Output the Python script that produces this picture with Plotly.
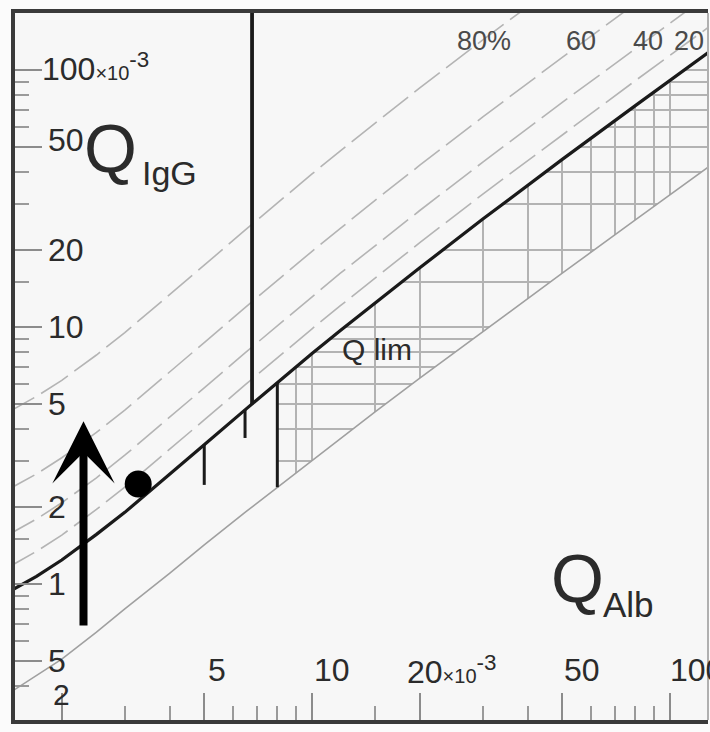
import numpy as np
import plotly.graph_objects as go

# ---------------- data (units x10^-3) ----------------
qalb = [1.4, 1.7, 2, 2.5, 3, 4, 5, 6.5, 8, 10, 12, 15, 20, 30, 50, 80, 130]
q_lim = [0.92, 1.07, 1.24, 1.56, 1.90, 2.66, 3.48, 4.76, 6.08, 7.88, 9.69, 12.4, 17.0, 26.3, 44.9, 72.7, 119]
q_low = [0.37, 0.44, 0.51, 0.65, 0.80, 1.10, 1.42, 1.90, 2.38, 3.03, 3.69, 4.67, 6.32, 9.61, 16.2, 26.1, 42.6]
q_20 = [1.15, 1.34, 1.55, 1.95, 2.38, 3.33, 4.35, 5.95, 7.60, 9.84, 12.1, 15.5, 21.3, 32.9, 56.1, 90.9, 149]
q_40 = [1.54, 1.79, 2.07, 2.59, 3.17, 4.44, 5.80, 7.93, 10.1, 13.1, 16.2, 20.7, 28.4, 43.8, 74.8, 121, 199]
q_60 = [2.31, 2.68, 3.10, 3.89, 4.75, 6.66, 8.70, 11.9, 15.2, 19.7, 24.2, 31.1, 42.6, 65.7, 112, 182, 298]
q_80 = [4.62, 5.37, 6.20, 7.78, 9.51, 13.3, 17.4, 23.8, 30.4, 39.4, 48.5, 62.2, 85.2, 131, 224, 364, 596]
percent_labels = ["80%", "60", "40", "20"]

age_qalb = [5, 6.5, 8]
age_top = [3.48, 4.76, 6.08]
age_bottom = [2.43, 3.70, 2.38]
hatch_start_qalb = 8

ref_line_qalb = [6.8, 6.8]
ref_line_q = [5.0, 170]

patient_qalb = [3.27]
patient_qigg = [2.45]

arrow_qalb = 2.3
arrow_from = 0.68
arrow_to = 4.3

x_major = [2, 5, 10, 20, 50, 100]
x_major_labels = ["2", "5", "10", "20<span style='font-size:20px'>×10</span><sup>-3</sup>", "50", "100"]
x_minor = [3, 4, 6, 7, 8, 9, 15, 30, 40, 60, 70, 80, 90]
y_major = [0.5, 1, 2, 5, 10, 20, 50, 100]
y_major_labels = ["5", "1", "2", "5", "10", "20", "50", "100<span style='font-size:20px'>×10</span><sup>-3</sup>"]
y_minor = [0.4, 0.6, 0.7, 0.8, 0.9, 1.5, 3, 4, 6, 7, 8, 9, 15, 30, 40, 60, 70, 80, 90]

# ---------------- layout / style ----------------
W, H = 710, 732
ML, MT, MR, MB = 15, 13, 2, 12
PW, PH = W - ML - MR, H - MT - MB
BG = "#f7f7f7"
FONT = "Liberation Sans, Arial, sans-serif"
TXT = "#2b2b2b"


def px_x(p):
    return (p - ML) / PW


def px_y(p):
    return 1 - (p - MT) / PH


fig = go.Figure()

# masks: hide gridlines everywhere except the hatched band
fig.add_trace(go.Scatter(x=qalb + [qalb[-1], qalb[0]], y=q_lim + [1e4, 1e4],
                         fill="toself", fillcolor=BG, mode="lines",
                         line=dict(width=0, color=BG), hoverinfo="skip"))
fig.add_trace(go.Scatter(x=qalb + [qalb[-1], qalb[0]], y=q_low + [1e-3, 1e-3],
                         fill="toself", fillcolor=BG, mode="lines",
                         line=dict(width=0, color=BG), hoverinfo="skip"))
fig.add_trace(go.Scatter(x=[0.1, hatch_start_qalb, hatch_start_qalb, 0.1], y=[1e-3, 1e-3, 1e4, 1e4],
                         fill="toself", fillcolor=BG, mode="lines",
                         line=dict(width=0, color=BG), hoverinfo="skip"))

# lower limit line
fig.add_trace(go.Scatter(x=qalb, y=q_low, mode="lines",
                         line=dict(color="#a0a0a0", width=1.6), hoverinfo="skip"))
# intrathecal fraction lines
for ys in (q_20, q_40, q_60, q_80):
    fig.add_trace(go.Scatter(x=qalb, y=ys, mode="lines",
                             line=dict(color="#b4b4b4", width=1.6, dash="32px,8px"),
                             hoverinfo="skip"))
# Q lim
fig.add_trace(go.Scatter(x=qalb, y=q_lim, mode="lines",
                         line=dict(color="#1a1a1a", width=3.2), hoverinfo="skip"))
# age-limit markers
ax_, ay_ = [], []
for a, t, b in zip(age_qalb, age_top, age_bottom):
    ax_ += [a, a, None]
    ay_ += [t, b, None]
fig.add_trace(go.Scatter(x=ax_, y=ay_, mode="lines",
                         line=dict(color="#1a1a1a", width=3), hoverinfo="skip"))
# tall reference line
fig.add_trace(go.Scatter(x=ref_line_qalb, y=ref_line_q, mode="lines",
                         line=dict(color="#1a1a1a", width=3.8), hoverinfo="skip"))
# patient point
fig.add_trace(go.Scatter(x=patient_qalb, y=patient_qigg, mode="markers",
                         marker=dict(color="#000", size=27, line=dict(width=0)),
                         hoverinfo="skip"))

ann = []
# arrow
ann.append(dict(x=np.log10(arrow_qalb), y=np.log10(arrow_to), xref="x", yref="y",
                ax=np.log10(arrow_qalb), ay=np.log10(arrow_from), axref="x", ayref="y",
                text="", showarrow=True, arrowhead=3, arrowwidth=8, arrowsize=1.3,
                arrowcolor="#000", standoff=0))

# y tick labels
y_dx = {100: -6}
y_dy = {50: 7, 100: 3}
for v, lab in zip(y_major, y_major_labels):
    ann.append(dict(x=px_x(46), xref="paper", y=np.log10(v), yref="y",
                    xanchor="left", yanchor="middle", text=lab, showarrow=False,
                    xshift=y_dx.get(v, 0), yshift=y_dy.get(v, 0),
                    font=dict(family=FONT, size=32, color=TXT)))
# x tick labels
x_dx = {5: 2, 10: 0, 20: -15, 50: 0, 100: -2}
for v, lab in zip(x_major, x_major_labels):
    if v == 2:
        ann.append(dict(x=np.log10(v), xref="x", y=px_y(694), yref="paper",
                        xanchor="center", yanchor="middle", text=lab, showarrow=False,
                        font=dict(family=FONT, size=30, color=TXT)))
    else:
        ann.append(dict(x=np.log10(v), xref="x", y=px_y(670), yref="paper",
                        xanchor="left", yanchor="middle", text=lab, showarrow=False,
                        xshift=x_dx.get(v, 0),
                        font=dict(family=FONT, size=32, color=TXT)))

# axis titles
ann.append(dict(x=px_x(82), y=px_y(148), xref="paper", yref="paper", xanchor="left",
                yanchor="middle", text="Q", showarrow=False,
                font=dict(family=FONT, size=68, color=TXT)))
ann.append(dict(x=px_x(140), y=px_y(173), xref="paper", yref="paper", xanchor="left",
                yanchor="middle", text="IgG", showarrow=False,
                font=dict(family=FONT, size=34, color=TXT)))
ann.append(dict(x=px_x(549), y=px_y(578), xref="paper", yref="paper", xanchor="left",
                yanchor="middle", text="Q", showarrow=False,
                font=dict(family=FONT, size=68, color=TXT)))
ann.append(dict(x=px_x(601), y=px_y(604), xref="paper", yref="paper", xanchor="left",
                yanchor="middle", text="Alb", showarrow=False,
                font=dict(family=FONT, size=35, color=TXT)))
ann.append(dict(x=px_x(340), y=px_y(349), xref="paper", yref="paper", xanchor="left",
                yanchor="middle", text="Q lim", showarrow=False,
                font=dict(family=FONT, size=30, color=TXT)))
# percent labels
for lab, cx in zip(percent_labels, [484, 581, 648, 689]):
    ann.append(dict(x=px_x(cx), y=px_y(41), xref="paper", yref="paper", xanchor="center",
                    yanchor="middle", text=lab, showarrow=False,
                    font=dict(family=FONT, size=27, color="#4a4a4a")))

GRID = "#b3b3b3"
fig.update_layout(
    width=W, height=H, margin=dict(l=ML, r=MR, t=MT, b=MB),
    paper_bgcolor="#fbfbfb", plot_bgcolor=BG, showlegend=False,
    annotations=ann,
    xaxis=dict(type="log", range=[0.1704, 2.106], tickmode="array", tickvals=x_major,
               showticklabels=False, ticks="inside", ticklen=27, tickwidth=1.5,
               tickcolor="#8c8c8c", showgrid=True, gridcolor=GRID, gridwidth=1.5,
               showline=True, linecolor="#3a3a3a", linewidth=4, mirror=True,
               zeroline=False,
               minor=dict(tickmode="array", tickvals=x_minor, ticks="inside", ticklen=14,
                          tickwidth=1.5, tickcolor="#9a9a9a", showgrid=True,
                          gridcolor=GRID, gridwidth=1.5)),
    yaxis=dict(type="log", range=[-0.5292, 2.2218], tickmode="array", tickvals=y_major,
               showticklabels=False, ticks="inside", ticklen=27, tickwidth=1.5,
               tickcolor="#8c8c8c", showgrid=True, gridcolor=GRID, gridwidth=1.5,
               showline=True, linecolor="#3a3a3a", linewidth=4, mirror=False,
               zeroline=False,
               minor=dict(tickmode="array", tickvals=y_minor, ticks="inside", ticklen=14,
                          tickwidth=1.5, tickcolor="#9a9a9a", showgrid=True,
                          gridcolor=GRID, gridwidth=1.5)),
    shapes=[dict(type="line", xref="paper", yref="paper", x0=1, x1=1, y0=0, y1=1,
                 line=dict(color="#b0b0b0", width=2))],
)

fig.write_html("out.html")
